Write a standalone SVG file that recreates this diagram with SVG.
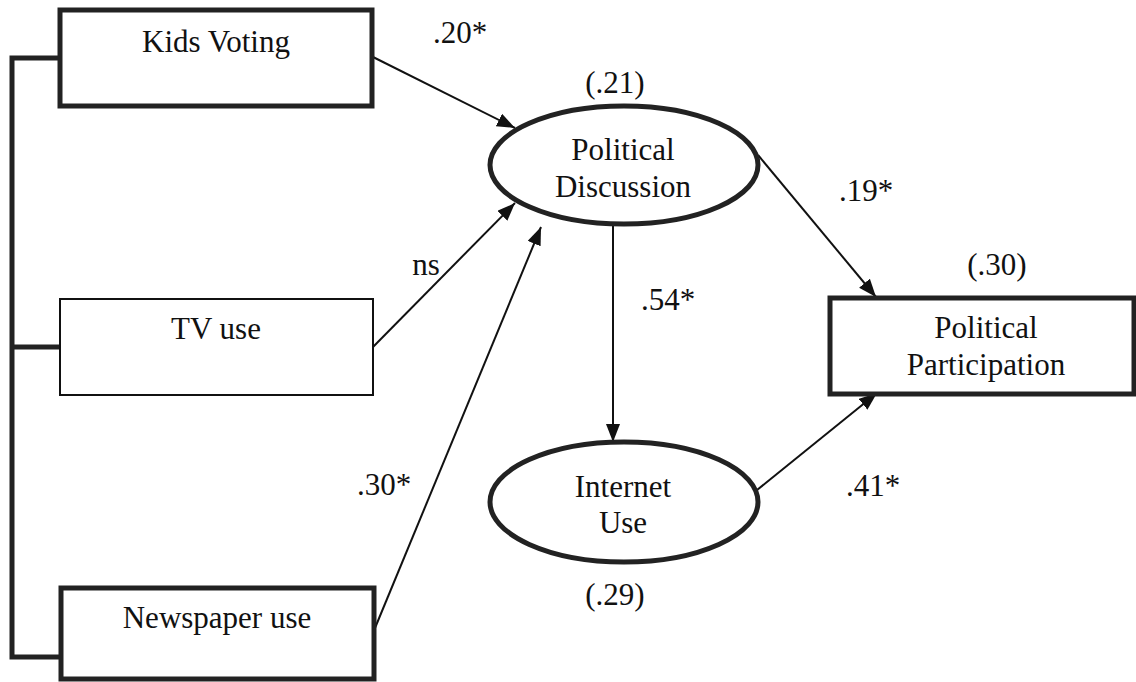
<svg xmlns="http://www.w3.org/2000/svg" width="1136" height="682" viewBox="0 0 1136 682">
<style>
.t{font-family:"Liberation Serif","Times New Roman",serif;font-size:31px;fill:#111;text-anchor:middle}
.thick{fill:#fff;stroke:#222;stroke-width:5}
.thin{fill:#fff;stroke:#111;stroke-width:2}
.conn{stroke:#111;stroke-width:2;fill:none}
.brk{stroke:#222;stroke-width:5;fill:none}
</style>
<defs>
<marker id="ah" markerUnits="userSpaceOnUse" markerWidth="20" markerHeight="16" refX="18" refY="7" orient="auto">
<path d="M0,0 L18,7 L0,14 Z" fill="#111"/>
</marker>
</defs>
<rect width="1136" height="682" fill="#fff"/>
<g id="connectors">
<path class="brk" d="M60,58 H12 V657 H60"/>
<path class="brk" d="M12,347 H60"/>
<line class="conn" x1="373" y1="57" x2="515" y2="128" marker-end="url(#ah)"/>
<line class="conn" x1="373" y1="347" x2="515" y2="203" marker-end="url(#ah)"/>
<line class="conn" x1="375" y1="628" x2="541" y2="227" marker-end="url(#ah)"/>
<line class="conn" x1="758" y1="155" x2="876" y2="297" marker-end="url(#ah)"/>
<line class="conn" x1="757" y1="490" x2="877" y2="393" marker-end="url(#ah)"/>
<line class="conn" x1="613" y1="225" x2="613" y2="442" marker-end="url(#ah)"/>
</g>
<g id="kids-voting">
<rect class="thick" x="60" y="10" width="312" height="96"/>
<text class="t" x="216" y="52">Kids Voting</text>
</g>
<g id="tv-use">
<rect class="thin" x="60" y="299" width="313" height="96"/>
<text class="t" x="216" y="339">TV use</text>
</g>
<g id="newspaper-use">
<rect class="thick" x="61" y="588" width="313" height="91"/>
<text class="t" x="217" y="628">Newspaper use</text>
</g>
<g id="political-discussion">
<ellipse class="thick" cx="624" cy="165" rx="134" ry="59"/>
<text class="t" x="623" y="160">Political</text>
<text class="t" x="623" y="197">Discussion</text>
</g>
<g id="internet-use">
<ellipse class="thick" cx="624" cy="502" rx="134" ry="60"/>
<text class="t" x="623" y="497">Internet</text>
<text class="t" x="623" y="533">Use</text>
</g>
<g id="political-participation">
<rect class="thick" x="830" y="298" width="304" height="96"/>
<text class="t" x="986" y="338">Political</text>
<text class="t" x="986" y="375">Participation</text>
</g>
<g id="labels">
<text class="t" x="460" y="43">.20*</text>
<text class="t" x="615" y="93">(.21)</text>
<text class="t" x="866" y="201">.19*</text>
<text class="t" x="426" y="275">ns</text>
<text class="t" x="668" y="310">.54*</text>
<text class="t" x="997" y="275">(.30)</text>
<text class="t" x="384" y="495">.30*</text>
<text class="t" x="873" y="496">.41*</text>
<text class="t" x="615" y="605">(.29)</text>
</g>
</svg>
